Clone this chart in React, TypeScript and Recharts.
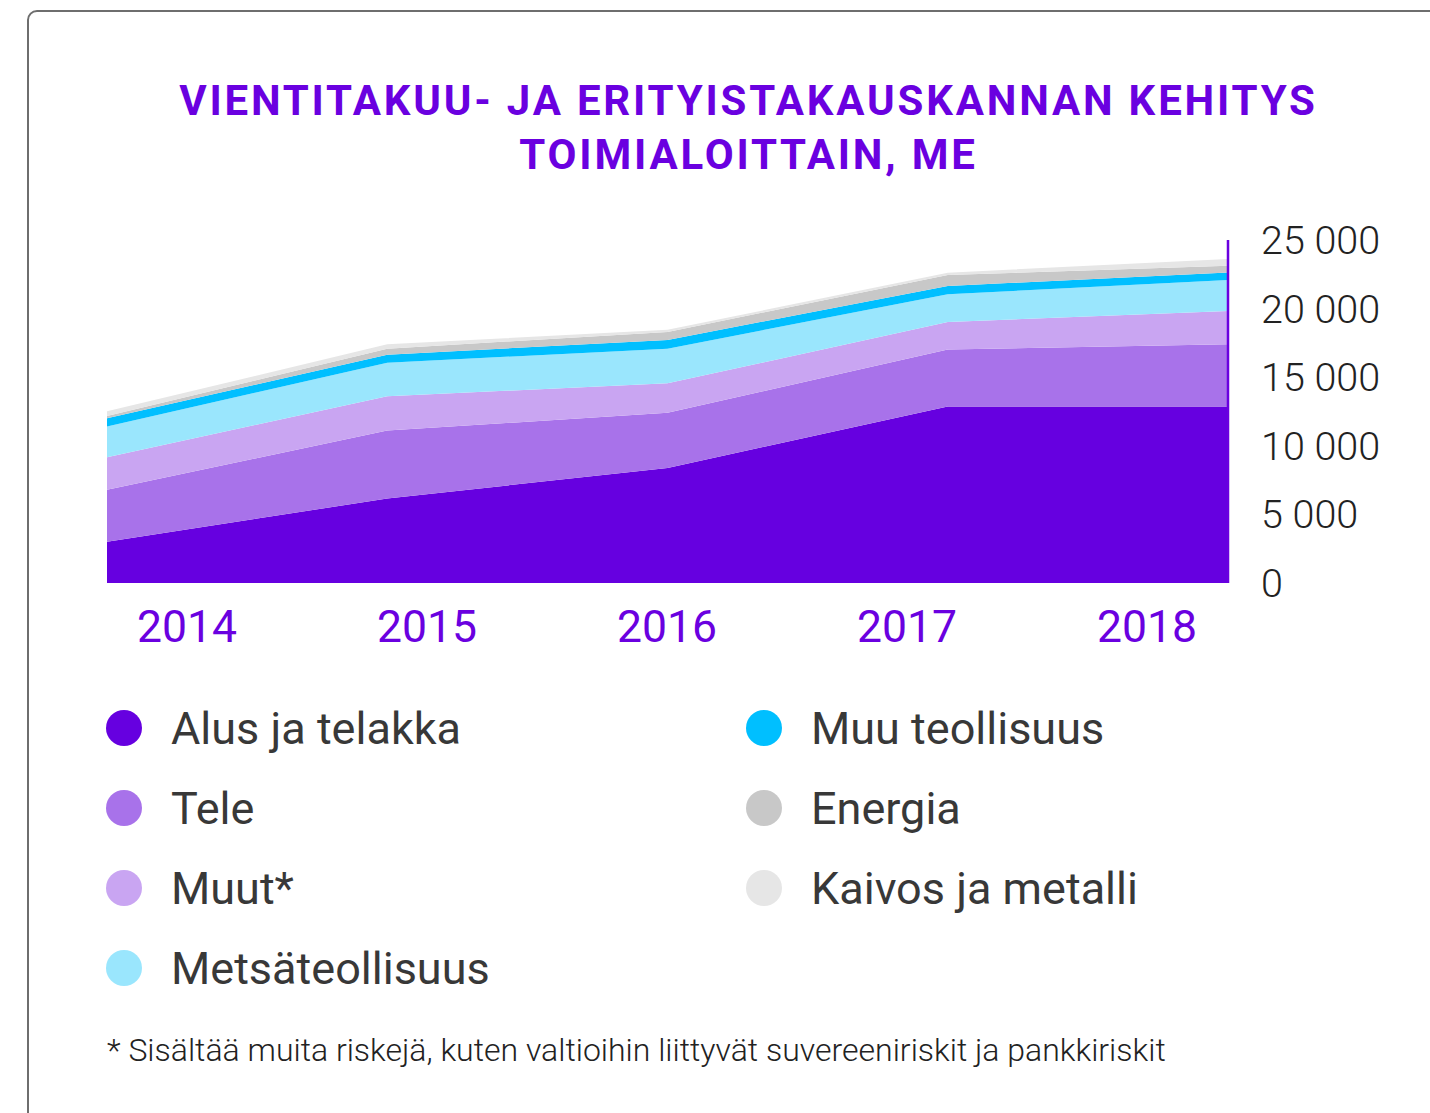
import React from 'react';
import { AreaChart, Area, XAxis, YAxis } from 'recharts';

const years = ['2014', '2015', '2016', '2017', '2018'];
const alus = [3000, 6160, 8380, 12870, 12870];
const tele = [3800, 4950, 4020, 4140, 4530];
const muut = [2360, 2510, 2150, 2020, 2430];
const metsa = [2240, 2440, 2530, 2020, 2250];
const muuTeollisuus = [600, 580, 640, 600, 550];
const energia = [180, 440, 580, 800, 490];
const kaivos = [330, 320, 150, 170, 490];
const yTicks = [0, 5000, 10000, 15000, 20000, 25000];

const series = [
    { key: 'alus', name: 'Alus ja telakka', color: '#6600e0', values: alus },
    { key: 'tele', name: 'Tele', color: '#a872ea', values: tele },
    { key: 'muut', name: 'Muut*', color: '#c9a5f2', values: muut },
    { key: 'metsa', name: 'Metsäteollisuus', color: '#9ae6fd', values: metsa },
    { key: 'muu', name: 'Muu teollisuus', color: '#00bfff', values: muuTeollisuus },
    { key: 'energia', name: 'Energia', color: '#c8c8c8', values: energia },
    { key: 'kaivos', name: 'Kaivos ja metalli', color: '#e6e6e6', values: kaivos },
];

const data = years.map((year, i) => {
    const row: Record<string, string | number> = { year };
    series.forEach(s => { row[s.key] = s.values[i]; });
    return row;
});

const PURPLE = '#6a00e0';
const FONT = 'Roboto, "Noto Sans", sans-serif';

const formatThousands = (v: number) => String(v).replace(/\B(?=(\d{3})+(?!\d))/g, ' ');

const LegendItem = ({ name, color, x, y }) => (
    <div style={{ position: 'absolute', left: x, top: y, display: 'flex', alignItems: 'center', height: 50 }}>
        <div style={{ width: 36, height: 36, borderRadius: '50%', background: color }} />
        <span style={{ marginLeft: 29, fontSize: 45, color: '#383838', whiteSpace: 'nowrap' }}>{name}</span>
    </div>
);

export default function App() {
    const leftCol = series.slice(0, 4);
    const rightCol = series.slice(4);
    return (
        <div style={{ position: 'absolute', left: 0, top: 0, width: 1430, height: 1113, overflow: 'hidden', fontFamily: FONT, background: '#fff' }}>
            <div style={{ position: 'absolute', left: 27, top: 10, width: 1500, height: 1200, border: '2px solid #6e6e6e', borderRadius: 10, boxSizing: 'border-box' }} />
            <div style={{ position: 'absolute', left: 0, top: 0 }}>
                <AreaChart width={1430} height={720} data={data} margin={{ top: 240, left: 107, right: 2, bottom: 77 }}>
                    <XAxis xAxisId="main" dataKey="year" hide height={0} />
                    <XAxis
                        xAxisId="labels"
                        dataKey="year"
                        height={60}
                        padding={{ left: 80, right: 81 }}
                        axisLine={false}
                        tickLine={false}
                        tickSize={0}
                        tickMargin={27}
                        tick={{ fill: PURPLE, fontSize: 44.5, fontFamily: FONT }}
                    />
                    <YAxis
                        orientation="right"
                        width={200}
                        domain={[0, 25000]}
                        ticks={yTicks}
                        interval={0}
                        tickFormatter={formatThousands}
                        axisLine={{ stroke: PURPLE, strokeWidth: 2.5 }}
                        tickLine={false}
                        tickSize={0}
                        tickMargin={33}
                        tick={{ fill: '#222', fontSize: 39.5, fontFamily: FONT, fontWeight: 300 }}
                    />
                    {series.map(s => (
                        <Area
                            key={s.key}
                            xAxisId="main"
                            type="linear"
                            dataKey={s.key}
                            name={s.name}
                            stackId="1"
                            stroke="none"
                            fill={s.color}
                            fillOpacity={1}
                            isAnimationActive={false}
                        />
                    ))}
                </AreaChart>
            </div>
            <div style={{ position: 'absolute', left: 0, width: 1497, top: 74, textAlign: 'center', color: PURPLE, fontWeight: 700, fontSize: 42, letterSpacing: 2.8, lineHeight: '54px' }}>
                VIENTITAKUU- JA ERITYISTAKAUSKANNAN KEHITYS<br />TOIMIALOITTAIN, ME
            </div>
            {leftCol.map((s, i) => (
                <LegendItem key={s.key} name={s.name} color={s.color} x={106} y={703 + i * 80} />
            ))}
            {rightCol.map((s, i) => (
                <LegendItem key={s.key} name={s.name} color={s.color} x={746} y={703 + i * 80} />
            ))}
            <div style={{ position: 'absolute', left: 107, top: 1031, fontSize: 32, fontWeight: 300, color: '#222', whiteSpace: 'nowrap' }}>
                * Sisältää muita riskejä, kuten valtioihin liittyvät suvereeniriskit ja pankkiriskit
            </div>
        </div>
    );
}
